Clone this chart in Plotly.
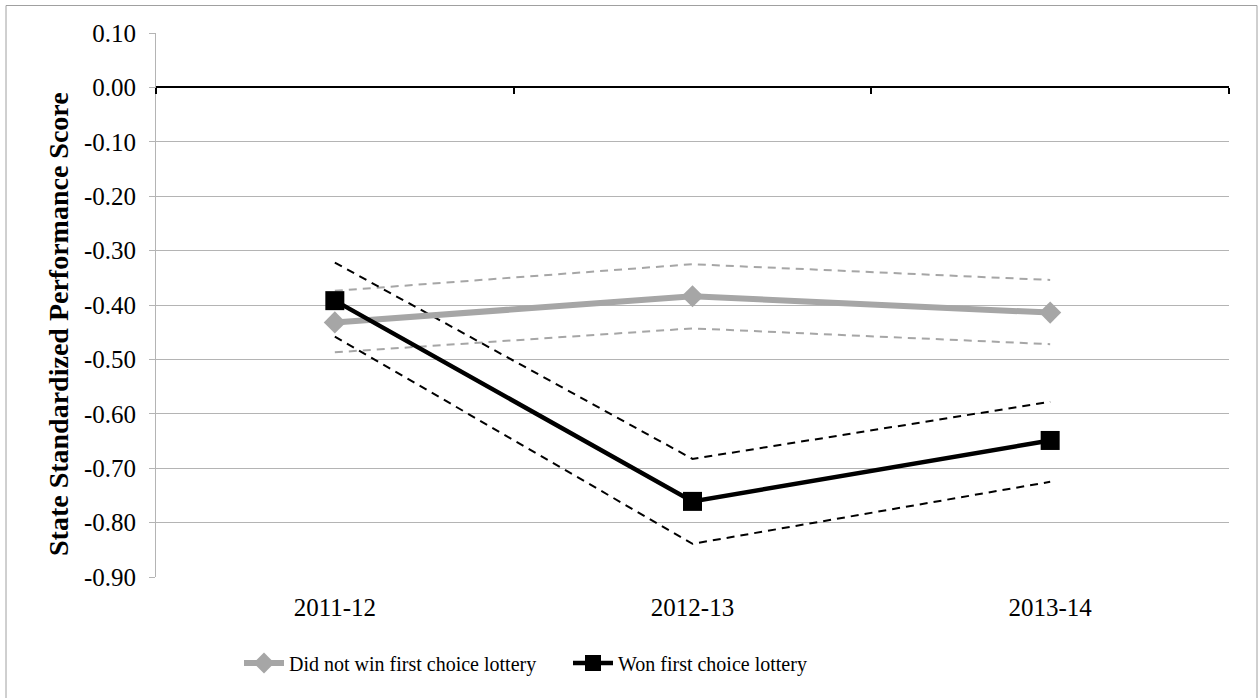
import plotly.graph_objects as go

years = ["2011-12", "2012-13", "2013-14"]
not_win = [-0.432, -0.384, -0.414]
not_win_upper = [-0.374, -0.325, -0.354]
not_win_lower = [-0.487, -0.443, -0.472]
won = [-0.392, -0.761, -0.649]
won_upper = [-0.322, -0.683, -0.578]
won_lower = [-0.458, -0.839, -0.725]

y_ticks = [0.10, 0.00, -0.10, -0.20, -0.30, -0.40, -0.50, -0.60, -0.70, -0.80, -0.90]
y_tick_text = ["0.10", "0.00", "-0.10", "-0.20", "-0.30", "-0.40", "-0.50", "-0.60", "-0.70", "-0.80", "-0.90"]
y_min, y_max = -0.90, 0.10

GRAY = "#A6A6A6"
GRID = "#B4B4B4"
FONT = "Liberation Serif, Times New Roman, serif"

fig = go.Figure()

for vals, col in [(not_win_upper, GRAY), (not_win_lower, GRAY), (won_upper, "black"), (won_lower, "black")]:
    fig.add_trace(go.Scatter(x=years, y=vals, mode="lines", showlegend=False, hoverinfo="skip",
                             line=dict(color=col, width=2, dash="8px,6px")))

fig.add_trace(go.Scatter(x=years, y=not_win, mode="lines+markers", name="Did not win first choice lottery",
                         line=dict(color=GRAY, width=6),
                         marker=dict(symbol="diamond", size=17, color=GRAY)))
fig.add_trace(go.Scatter(x=years, y=won, mode="lines+markers", name="Won first choice lottery",
                         line=dict(color="black", width=4.5),
                         marker=dict(symbol="square", size=19, color="black")))

# invisible trace to carry the zero-crossing axis with boundary ticks
fig.add_trace(go.Scatter(x=[0.5, 3.5], y=[0, 0], xaxis="x2", mode="lines", showlegend=False,
                         hoverinfo="skip", line=dict(color="rgba(0,0,0,0)")))

L, R, T, B = 156, 29, 33, 121
W, H = 1258, 698
dom_w = W - L - R
dom_h = H - T - B
zero_pos = (0 - y_min) / (y_max - y_min)

fig.update_layout(
    width=W, height=H,
    margin=dict(l=L, r=R, t=T, b=B),
    paper_bgcolor="white", plot_bgcolor="white",
    font=dict(family=FONT, size=22, color="black"),
    xaxis=dict(type="category", range=[-0.5, 2.5], showgrid=False, showline=False, ticks="",
               zeroline=False, tickfont=dict(size=25, family=FONT), ticklabelstandoff=13),
    xaxis2=dict(overlaying="x", anchor="free", position=zero_pos, range=[0.5, 3.5],
                showgrid=False, zeroline=False, showline=True, linecolor="black", linewidth=2,
                ticks="outside", ticklen=6, tickwidth=2, tickcolor="black",
                tickvals=[0.5, 1.5, 2.5, 3.5], showticklabels=False),
    yaxis=dict(range=[y_min, y_max], tickvals=y_ticks, ticktext=y_tick_text,
               showgrid=True, gridcolor=GRID, gridwidth=1, zeroline=False,
               showline=True, linecolor=GRID, linewidth=1,
               ticks="outside", ticklen=6, tickcolor=GRID,
               tickfont=dict(size=25, family=FONT), ticklabelstandoff=8),
    legend=dict(orientation="h", x=(239 - L) / dom_w, xanchor="left", y=(577 - 663) / dom_h,
                yanchor="middle", font=dict(size=20, family=FONT), bgcolor="rgba(0,0,0,0)",
                itemwidth=40, entrywidth=274, entrywidthmode="pixels"),
    annotations=[dict(text="<b>State Standardized Performance Score</b>", xref="paper", yref="paper",
                      x=(58 - L) / dom_w, y=(577 - 324) / dom_h, xanchor="center", yanchor="middle",
                      textangle=-90, showarrow=False, font=dict(size=28, family=FONT))],
    shapes=[dict(type="rect", xref="paper", yref="paper",
                 x0=-(L - 6) / dom_w, x1=(W - L - 1) / dom_w,
                 y0=-(B + 2) / dom_h, y1=1 + (T - 5.5) / dom_h,
                 line=dict(color="#A0A0A0", width=1), layer="below")],
)

fig.write_html("out.html", config={"displayModeBar": False},
               post_script="document.body.style.margin='0';document.body.style.overflow='hidden';")
